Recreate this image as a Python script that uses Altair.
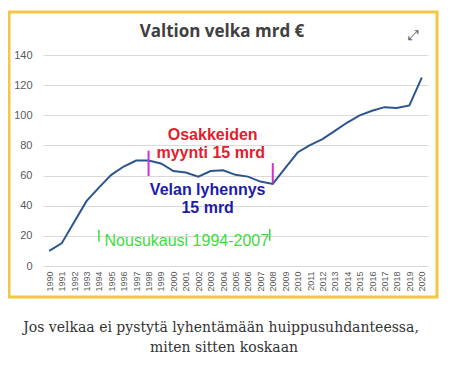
import altair as alt
import pandas as pd

years = [str(y) for y in range(1990, 2021)]
debt = [10, 15, 29, 43, 52, 60.5, 66, 70, 70, 68, 63, 62, 59.3, 63, 63.5,
        60.5, 59.3, 56, 54.5, 65, 75.3, 80.2, 84.2, 89.7, 95.2, 99.9, 103,
        105.4, 104.8, 106.5, 125]

ann_text = ["Osakkeiden", "myynti 15 mrd", "Velan lyhennys", "15 mrd", "Nousukausi 1994-2007"]
ann_year = ["2003", "2003", "2003", "2003", "2001"]
ann_val = [86.9, 75, 50.4, 38.5, 16.6]
ann_dx = [2, 0, -3, -3, 1]
ann_color = ["#e0202c", "#e0202c", "#1c1ca8", "#1c1ca8", "#3ddc3d"]
ann_weight = ["bold", "bold", "bold", "bold", "normal"]

mark_year = ["1998", "1998", "2008", "2008"]
mark_val = [76.5, 59.7, 68.3, 55]
mark_id = ["a", "a", "b", "b"]

br_year = ["1994", "1994", "2008", "2008"]
br_val = [24, 16.2, 24.5, 16.8]
br_id = ["l", "l", "r", "r"]

caption = ["Jos velkaa ei pystytä lyhentämään huippusuhdanteessa,", "miten sitten koskaan"]

W, H = 385, 211

df = pd.DataFrame({"year": years, "v": debt})
ann = pd.DataFrame({"t": ann_text, "year": ann_year, "v": ann_val, "dx": ann_dx,
                    "c": ann_color, "w": ann_weight})
mk = pd.DataFrame({"year": mark_year, "v": mark_val, "id": mark_id})
br = pd.DataFrame({"year": br_year, "v": br_val, "id": br_id})

x_axis = alt.Axis(title=None, labelAngle=270, labelFontSize=9, labelColor="#595959",
                  labelFont="Liberation Sans", ticks=False, domain=False,
                  labelPadding=5, grid=False, labelAlign="right", labelBaseline="middle")
y_axis = alt.Axis(title=None, values=[0, 20, 40, 60, 80, 100, 120, 140],
                  labelFontSize=11, labelColor="#595959", labelFont="Liberation Sans",
                  ticks=False, domain=False, labelPadding=11,
                  gridColor="#d9d9d9", gridWidth=1)

xv = alt.X("year:O", scale=alt.Scale(type="point", padding=0.5, domain=years), axis=x_axis)
yv = alt.Y("v:Q", scale=alt.Scale(domain=[0, 140], nice=False), axis=y_axis)

line = alt.Chart(df).mark_line(color="#2c5590", strokeWidth=2).encode(x=xv, y=yv)

layers_txt = []
for _, r in ann.iterrows():
    layers_txt.append(
        alt.Chart(pd.DataFrame([r])).mark_text(font="Liberation Sans", fontSize=16,
                                               fontWeight=r["w"], dx=int(r["dx"]),
                                               color=r["c"]).encode(x=xv, y=yv, text="t:N"))

marks = alt.Chart(mk).mark_line(color="#d22ed2", strokeWidth=2).encode(x=xv, y=yv, detail="id:N")
brackets = alt.Chart(br[br.id == "l"]).mark_line(color="#3ddc3d", strokeWidth=1.5).encode(x=xv, y=yv)
brackets_r = alt.Chart(br[br.id == "r"]).mark_line(color="#3ddc3d", strokeWidth=1.5, xOffset=-3).encode(x=xv, y=yv)

border = alt.Chart(pd.DataFrame({"a": [0]})).mark_rect(
    fill=None, stroke="#f2c744", strokeWidth=3).encode(
    x=alt.value(-34), x2=alt.value(394), y=alt.value(-43), y2=alt.value(242))

title = alt.Chart(pd.DataFrame({"t": ["Valtion velka mrd €"]})).mark_text(
    font="Open Sans", fontSize=17, fontWeight="bold", color="#404040").encode(
    x=alt.value(179), y=alt.value(-23), text="t:N")

icon = alt.Chart(pd.DataFrame({"t": ["⤢"]})).mark_text(
    font="DejaVu Sans", fontSize=14, color="#555555").encode(
    x=alt.value(370), y=alt.value(-19), text="t:N")

cap = alt.layer(*[
    alt.Chart(pd.DataFrame({"t": [caption[i]]})).mark_text(
        font="DejaVu Serif", fontSize=14, color="#333333").encode(
        x=alt.value(178 if i == 0 else 181), y=alt.value(273 + 20 * i), text="t:N")
    for i in range(2)])

chart = alt.layer(line, border, marks, brackets, brackets_r, *layers_txt, title, icon, cap).properties(
    width=W, height=H,
    autosize=alt.AutoSizeParams(type="none"),
    padding={"left": 35, "top": 47, "right": 14, "bottom": 95},
    background="white",
).configure_view(stroke=None)

chart.save("out.html", embed_options={"renderer": "svg", "actions": False})
